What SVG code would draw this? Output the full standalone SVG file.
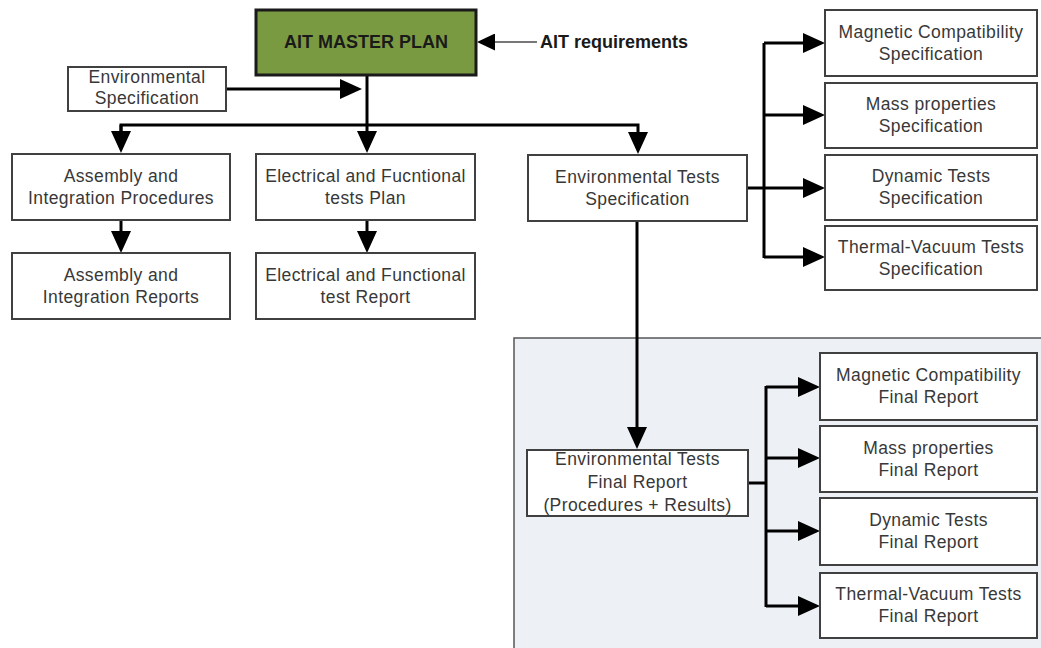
<svg xmlns="http://www.w3.org/2000/svg" width="1041" height="648" viewBox="0 0 1041 648">
<style>
.box{fill:#ffffff;stroke:#404040;stroke-width:2}
.t{font-family:"Liberation Sans",Arial,sans-serif;font-size:17.5px;letter-spacing:0.4px;fill:#383838;text-anchor:middle}
.b{font-family:"Liberation Sans",Arial,sans-serif;font-size:18px;font-weight:bold;fill:#1a1a1a}
.c{fill:none;stroke:#000;stroke-width:3}
</style>
<defs>
<marker id="ah" markerUnits="userSpaceOnUse" markerWidth="22" markerHeight="20" refX="15" refY="10" orient="auto">
<path d="M0,0 L22,10 L0,20 z" fill="#000"/>
</marker>
<marker id="ahs" markerUnits="userSpaceOnUse" markerWidth="18" markerHeight="17" refX="12" refY="8.5" orient="auto">
<path d="M0,0 L18,8.5 L0,17 z" fill="#000"/>
</marker>
</defs>
<rect id="panel" x="514" y="338" width="530" height="312" fill="#edf0f5" stroke="#555" stroke-width="1.5"/>
<g id="connectors">
<line x1="537" y1="42" x2="483" y2="42" stroke="#777" stroke-width="2" marker-end="url(#ahs)"/>
<line class="c" x1="226" y1="89" x2="355" y2="89" marker-end="url(#ah)"/>
<line class="c" x1="367" y1="76" x2="367" y2="146" stroke-width="3.5" marker-end="url(#ah)"/>
<polyline class="c" points="121,146 121,125 638,125 638,147" marker-end="url(#ah)"/>
<polyline class="c" points="121,125 121,146" marker-end="url(#ah)"/>
<line class="c" x1="121" y1="220" x2="121" y2="246" marker-end="url(#ah)"/>
<line class="c" x1="367" y1="220" x2="367" y2="246" marker-end="url(#ah)"/>
<line class="c" x1="747" y1="188" x2="764" y2="188"/>
<line class="c" x1="764" y1="43" x2="764" y2="258"/>
<line class="c" x1="764" y1="43" x2="818" y2="43" marker-end="url(#ah)"/>
<line class="c" x1="764" y1="115" x2="818" y2="115" marker-end="url(#ah)"/>
<line class="c" x1="764" y1="188" x2="818" y2="188" marker-end="url(#ah)"/>
<line class="c" x1="764" y1="257" x2="818" y2="257" marker-end="url(#ah)"/>
<line class="c" x1="637" y1="221" x2="637" y2="442" marker-end="url(#ah)"/>
<line class="c" x1="748" y1="483" x2="766" y2="483"/>
<line class="c" x1="766" y1="386" x2="766" y2="607"/>
<line class="c" x1="766" y1="387" x2="813" y2="387" marker-end="url(#ah)"/>
<line class="c" x1="766" y1="458" x2="813" y2="458" marker-end="url(#ah)"/>
<line class="c" x1="766" y1="531" x2="813" y2="531" marker-end="url(#ah)"/>
<line class="c" x1="766" y1="606" x2="813" y2="606" marker-end="url(#ah)"/>
</g>
<g id="master">
<rect x="256" y="10" width="220" height="65" fill="#7a9a42" stroke="#1a1a1a" stroke-width="3"/>
<text class="b" x="366" y="48" text-anchor="middle">AIT MASTER PLAN</text>
</g>
<g id="ait-req"><text class="b" x="540" y="48">AIT requirements</text></g>
<g id="env-spec">
<rect class="box" x="68" y="67" width="158" height="44"/>
<text class="t" x="147" y="83">Environmental</text>
<text class="t" x="147" y="104">Specification</text>
</g>
<g id="ai-proc">
<rect class="box" x="12" y="154" width="218" height="66"/>
<text class="t" x="121" y="182">Assembly and</text>
<text class="t" x="121" y="204">Integration Procedures</text>
</g>
<g id="ef-plan">
<rect class="box" x="256" y="154" width="219" height="66"/>
<text class="t" x="365.5" y="182">Electrical and Fucntional</text>
<text class="t" x="365.5" y="204">tests Plan</text>
</g>
<g id="env-tests-spec">
<rect class="box" x="528" y="155" width="219" height="66"/>
<text class="t" x="637.5" y="183">Environmental Tests</text>
<text class="t" x="637.5" y="205">Specification</text>
</g>
<g id="ai-rep">
<rect class="box" x="12" y="253" width="218" height="66"/>
<text class="t" x="121" y="281">Assembly and</text>
<text class="t" x="121" y="303">Integration Reports</text>
</g>
<g id="ef-rep">
<rect class="box" x="256" y="253" width="219" height="66"/>
<text class="t" x="365.5" y="281">Electrical and Functional</text>
<text class="t" x="365.5" y="303">test Report</text>
</g>
<g id="mag-spec">
<rect class="box" x="825" y="10" width="212" height="66"/>
<text class="t" x="931" y="38">Magnetic Compatibility</text>
<text class="t" x="931" y="60">Specification</text>
</g>
<g id="mass-spec">
<rect class="box" x="825" y="83" width="212" height="65"/>
<text class="t" x="931" y="110">Mass properties</text>
<text class="t" x="931" y="132">Specification</text>
</g>
<g id="dyn-spec">
<rect class="box" x="825" y="155" width="212" height="65"/>
<text class="t" x="931" y="182">Dynamic Tests</text>
<text class="t" x="931" y="204">Specification</text>
</g>
<g id="tv-spec">
<rect class="box" x="825" y="226" width="212" height="64"/>
<text class="t" x="931" y="253">Thermal-Vacuum Tests</text>
<text class="t" x="931" y="275">Specification</text>
</g>
<g id="env-final">
<rect class="box" x="527" y="450" width="221" height="66"/>
<text class="t" x="637.5" y="465">Environmental Tests</text>
<text class="t" x="637.5" y="488">Final Report</text>
<text class="t" x="637.5" y="511">(Procedures + Results)</text>
</g>
<g id="mag-final">
<rect class="box" x="820" y="353" width="217" height="67"/>
<text class="t" x="928.5" y="381">Magnetic Compatibility</text>
<text class="t" x="928.5" y="403">Final Report</text>
</g>
<g id="mass-final">
<rect class="box" x="820" y="426" width="217" height="66"/>
<text class="t" x="928.5" y="454">Mass properties</text>
<text class="t" x="928.5" y="476">Final Report</text>
</g>
<g id="dyn-final">
<rect class="box" x="820" y="498" width="217" height="67"/>
<text class="t" x="928.5" y="526">Dynamic Tests</text>
<text class="t" x="928.5" y="548">Final Report</text>
</g>
<g id="tv-final">
<rect class="box" x="820" y="573" width="217" height="65"/>
<text class="t" x="928.5" y="600">Thermal-Vacuum Tests</text>
<text class="t" x="928.5" y="622">Final Report</text>
</g>
</svg>
